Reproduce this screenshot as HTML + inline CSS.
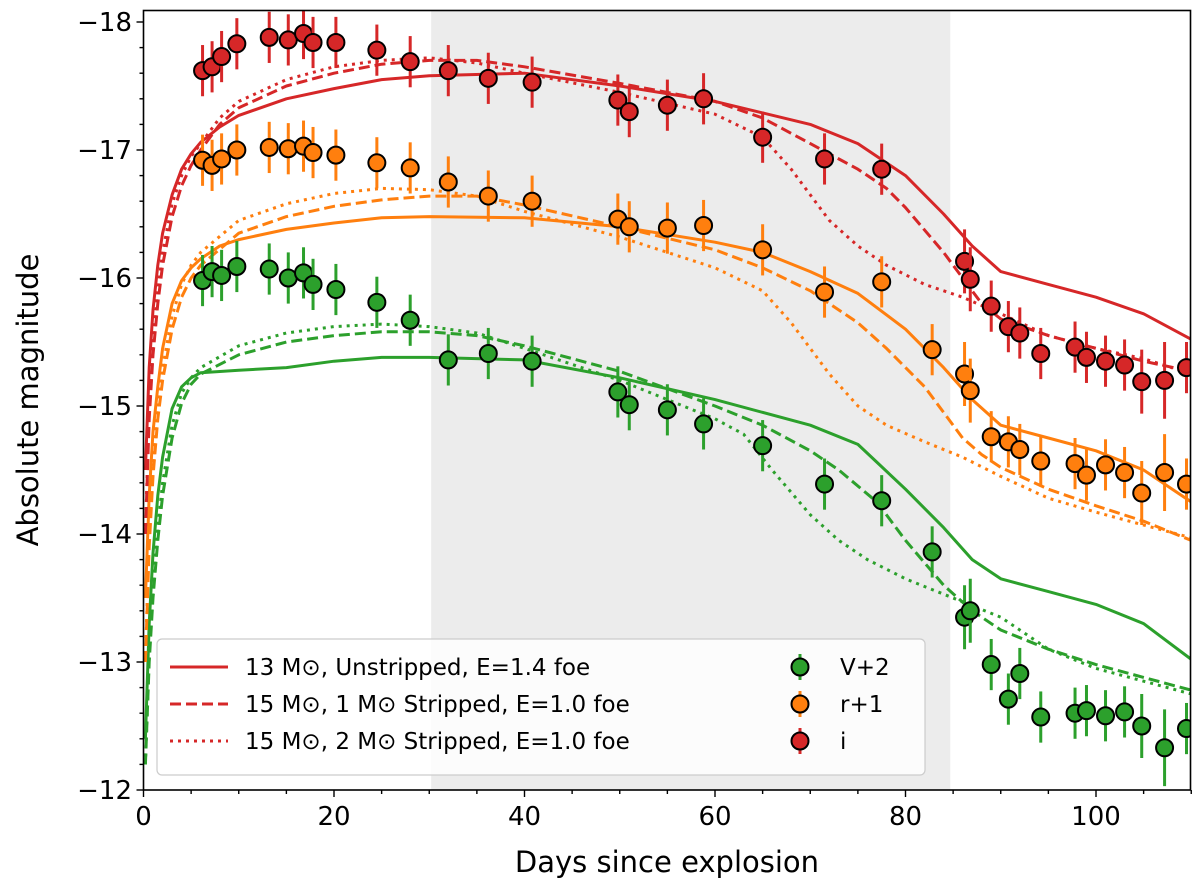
<!DOCTYPE html>
<html><head><meta charset="utf-8"><style>
body{margin:0;background:#fff;}
svg{display:block;font-family:"DejaVu Sans","Liberation Sans",sans-serif;}
</style></head><body>
<svg id="chart" width="1200" height="887" viewBox="0 0 1200 887" xmlns="http://www.w3.org/2000/svg">
<defs><clipPath id="clip"><rect x="143.5" y="10.5" width="1047" height="779.5"/></clipPath></defs>
<g id="plot" clip-path="url(#clip)"></g>
<g id="axes"></g>
</svg>
<script>
const days = [6.2,7.2,8.2,9.8,13.2,15.2,16.8,17.8,20.2,24.5,28.0,32.0,36.2,40.8,49.8,51.0,55.0,58.8,65.0,71.5,77.5,82.8,86.2,86.8,89.0,90.8,92.0,94.2,97.8,99.0,101.0,103.0,104.8,107.2,109.5];
const iMag = [-17.62,-17.65,-17.73,-17.83,-17.88,-17.86,-17.91,-17.84,-17.84,-17.78,-17.69,-17.62,-17.56,-17.53,-17.39,-17.30,-17.35,-17.40,-17.10,-16.93,-16.85,null,-16.13,-15.99,-15.78,-15.62,-15.57,-15.41,-15.46,-15.38,-15.35,-15.32,-15.19,-15.20,-15.30];
const rMag = [-16.92,-16.88,-16.93,-17.00,-17.02,-17.01,-17.03,-16.98,-16.96,-16.90,-16.86,-16.75,-16.64,-16.60,-16.46,-16.40,-16.39,-16.41,-16.22,-15.89,-15.97,-15.44,-15.25,-15.12,-14.76,-14.72,-14.66,-14.57,-14.55,-14.46,-14.54,-14.48,-14.32,-14.48,-14.39];
const vMag = [-15.98,-16.05,-16.02,-16.09,-16.07,-16.00,-16.04,-15.95,-15.91,-15.81,-15.67,-15.36,-15.41,-15.35,-15.11,-15.01,-14.97,-14.86,-14.69,-14.39,-14.26,-13.86,-13.35,-13.40,-12.98,-12.71,-12.91,-12.57,-12.60,-12.62,-12.58,-12.61,-12.50,-12.33,-12.48];
const errMag = [0.2,0.2,0.2,0.2,0.2,0.2,0.2,0.2,0.2,0.2,0.2,0.2,0.2,0.2,0.2,0.2,0.2,0.2,0.2,0.2,0.2,0.2,0.25,0.25,0.2,0.2,0.2,0.2,0.2,0.2,0.2,0.2,0.25,0.3,0.2];
const xTicks = [0,20,40,60,80,100];
const yTicks = [-18,-17,-16,-15,-14,-13,-12];
const redSolid = [[0.2,-14.5],[0.6,-15.3],[1,-15.75],[1.5,-16.1],[2,-16.35],[3,-16.65],[4,-16.85],[5,-16.97],[6,-17.06],[8,-17.18],[10,-17.27],[15,-17.4],[20,-17.48],[25,-17.55],[30,-17.58],[40,-17.6],[50,-17.5],[60,-17.38],[70,-17.2],[75,-17.05],[80,-16.8],[84,-16.5],[87,-16.25],[90,-16.05],[95,-15.95],[100,-15.85],[105,-15.72],[110,-15.52]];
const redDash = [[0.2,-14],[0.6,-14.9],[1,-15.4],[1.5,-15.8],[2,-16.1],[3,-16.48],[4,-16.72],[5,-16.88],[6,-17.0],[8,-17.2],[10,-17.33],[15,-17.5],[20,-17.6],[25,-17.67],[30,-17.7],[35,-17.7],[40,-17.65],[50,-17.52],[60,-17.38],[65,-17.25],[70,-17.05],[75,-16.85],[78,-16.7],[80,-16.55],[84,-16.2],[86,-16.0],[88,-15.8],[90,-15.68],[95,-15.55],[100,-15.45],[105,-15.35],[110,-15.27]];
const redDot = [[0.2,-14],[0.6,-15.0],[1,-15.5],[1.5,-15.9],[2,-16.2],[3,-16.58],[4,-16.8],[5,-16.95],[6,-17.05],[8,-17.25],[10,-17.38],[15,-17.55],[20,-17.65],[25,-17.7],[30,-17.72],[35,-17.68],[40,-17.6],[50,-17.45],[60,-17.28],[65,-17.1],[68,-16.85],[72,-16.45],[75,-16.25],[78,-16.1],[82,-15.95],[86,-15.85],[90,-15.72],[95,-15.55],[100,-15.45],[105,-15.37],[110,-15.25]];
const orSolid = [[0.2,-13.5],[0.6,-14.3],[1,-14.8],[1.5,-15.15],[2,-15.45],[3,-15.8],[4,-15.98],[5,-16.08],[6,-16.15],[8,-16.25],[10,-16.3],[15,-16.38],[20,-16.43],[25,-16.47],[30,-16.48],[40,-16.47],[50,-16.4],[60,-16.28],[65,-16.2],[70,-16.05],[75,-15.88],[80,-15.6],[84,-15.3],[87,-15.05],[90,-14.85],[95,-14.75],[100,-14.65],[105,-14.5],[110,-14.25]];
const orDash = [[0.2,-13],[0.6,-13.9],[1,-14.45],[1.5,-14.9],[2,-15.2],[3,-15.6],[4,-15.85],[5,-16.0],[6,-16.1],[10,-16.35],[15,-16.48],[20,-16.56],[25,-16.61],[30,-16.64],[35,-16.64],[40,-16.57],[50,-16.4],[60,-16.22],[65,-16.08],[70,-15.9],[75,-15.65],[78,-15.45],[82,-15.15],[84,-14.95],[86,-14.75],[88,-14.62],[90,-14.52],[95,-14.35],[100,-14.22],[105,-14.1],[110,-13.95]];
const orDot = [[0.2,-13],[0.6,-14.0],[1,-14.55],[1.5,-15.0],[2,-15.3],[3,-15.7],[4,-15.95],[5,-16.1],[6,-16.2],[10,-16.45],[15,-16.58],[20,-16.66],[25,-16.7],[30,-16.69],[35,-16.64],[40,-16.52],[50,-16.32],[60,-16.08],[65,-15.9],[68,-15.65],[72,-15.25],[75,-15.0],[78,-14.85],[82,-14.72],[86,-14.6],[90,-14.45],[95,-14.28],[100,-14.17],[105,-14.07],[110,-13.97]];
const grSolid = [[0.2,-12.4],[0.6,-13.3],[1,-13.85],[1.5,-14.3],[2,-14.6],[3,-14.98],[4,-15.15],[5,-15.22],[6,-15.26],[10,-15.28],[15,-15.3],[20,-15.35],[25,-15.38],[30,-15.38],[40,-15.36],[50,-15.22],[60,-15.05],[70,-14.85],[75,-14.7],[80,-14.35],[84,-14.05],[87,-13.8],[90,-13.65],[95,-13.55],[100,-13.45],[105,-13.3],[110,-13.02]];
const grDash = [[0.2,-12.2],[0.6,-13.0],[1,-13.5],[1.5,-13.95],[2,-14.3],[3,-14.75],[4,-15.02],[5,-15.17],[6,-15.25],[10,-15.4],[15,-15.5],[20,-15.55],[25,-15.58],[30,-15.58],[35,-15.55],[40,-15.47],[50,-15.27],[60,-15.0],[65,-14.85],[70,-14.65],[73,-14.5],[77,-14.25],[80,-13.95],[84,-13.6],[87,-13.4],[90,-13.25],[95,-13.1],[100,-12.98],[105,-12.88],[110,-12.78]];
const grDot = [[0.2,-12.2],[0.6,-13.05],[1,-13.6],[1.5,-14.05],[2,-14.4],[3,-14.85],[4,-15.1],[5,-15.22],[6,-15.3],[10,-15.47],[15,-15.57],[20,-15.62],[25,-15.64],[30,-15.62],[35,-15.57],[40,-15.45],[50,-15.2],[60,-14.9],[63,-14.78],[66,-14.5],[70,-14.15],[73,-13.95],[76,-13.8],[80,-13.65],[85,-13.5],[90,-13.35],[95,-13.1],[100,-12.95],[105,-12.85],[110,-12.75]];
const shadeRange = [30.2,84.7];

const NS="http://www.w3.org/2000/svg";
const X0=143.5, PXD=9.525, Y12=790, PXM=128;
const xs=d=>X0+d*PXD;
const ys=m=>Y12+(m+12)*PXM;
const RED="#d62728", ORG="#ff7f0e", GRN="#2ca02c";
function mk(tag,attrs,parent){const e=document.createElementNS(NS,tag);for(const k in attrs)e.setAttribute(k,attrs[k]);parent.appendChild(e);return e;}
const plot=document.getElementById('plot'), axes=document.getElementById('axes');

const sh=mk('rect',{x:xs(shadeRange[0]),y:0,width:xs(shadeRange[1])-xs(shadeRange[0]),height:800,fill:'#ececec'},plot);



function line(data,color,dash,name){
  const d=data.map((p,i)=>(i?'L':'M')+xs(p[0]).toFixed(1)+','+ys(p[1]).toFixed(1)).join(' ');
  const a={d:d,fill:'none',stroke:color,'stroke-width':3,'stroke-linejoin':'round'};
  if(dash==='dash')a['stroke-dasharray']='11,5';
  if(dash==='dot'){a['stroke-dasharray']='3,5';}
  const e=mk('path',a,plot);
  
  
}
line(grSolid,GRN,'solid','model-v-13msun-unstripped');
line(grDash,GRN,'dash','model-v-1msun-stripped');
line(grDot,GRN,'dot','model-v-2msun-stripped');
line(orSolid,ORG,'solid','model-r-13msun-unstripped');
line(orDash,ORG,'dash','model-r-1msun-stripped');
line(orDot,ORG,'dot','model-r-2msun-stripped');
line(redSolid,RED,'solid','model-i-13msun-unstripped');
line(redDash,RED,'dash','model-i-1msun-stripped');
line(redDot,RED,'dot','model-i-2msun-stripped');

function pts(mags,color,name){
  const g=mk('g',{},plot);
  
  
  mags.forEach((m,i)=>{
    if(m===null)return;
    const x=xs(days[i]),e=errMag[i];
    const b=mk('line',{x1:x,x2:x,y1:ys(m-e),y2:ys(m+e),stroke:color,'stroke-width':3},g);
    
    
    const c=mk('circle',{cx:x,cy:ys(m),r:8.5,fill:color,stroke:'#000','stroke-width':2},g);
    
    
  });
}
pts(vMag,GRN,'v-band-points');
pts(rMag,ORG,'r-band-points');
pts(iMag,RED,'i-band-points');

const fr=mk('rect',{x:143.5,y:10.5,width:1047,height:779.5,fill:'none',stroke:'#000','stroke-width':1.6},axes);


for(let d=0;d<=110;d+=5){
  const maj=d%20===0;
  mk('line',{x1:xs(d),x2:xs(d),y1:790,y2:790+(maj?7:4),stroke:'#000','stroke-width':1.4},axes);
}
xTicks.forEach(d=>{
  const t=mk('text',{x:xs(d),y:825,'text-anchor':'middle','font-size':26},axes);
  t.textContent=d;
  
  
});
for(let m=-18;m<=-12.01;m+=0.2){
  const maj=Math.abs(m-Math.round(m))<0.01;
  mk('line',{x1:143.5,x2:143.5-(maj?7:4),y1:ys(m),y2:ys(m),stroke:'#000','stroke-width':1.4},axes);
}
mk('line',{x1:143.5,x2:136.5,y1:ys(-12),y2:ys(-12),stroke:'#000','stroke-width':1.4},axes);
yTicks.forEach(m=>{
  const t=mk('text',{x:132,y:ys(m)+9,'text-anchor':'end','font-size':26},axes);
  t.textContent='\u2212'+Math.abs(m);
  
  
});
const xl=mk('text',{x:667,y:872,'text-anchor':'middle','font-size':29},axes);
xl.textContent='Days since explosion';


const yl=mk('text',{x:0,y:0,'text-anchor':'middle','font-size':29,transform:'translate(38,400) rotate(-90)'},axes);
yl.textContent='Absolute magnitude';



const lg=mk('g',{},axes);


mk('rect',{x:157,y:639,width:768,height:136,rx:5,fill:'#fff','fill-opacity':0.85,stroke:'#ccc','stroke-width':1.2},lg);
const lrows=[['13 M\u2299, Unstripped, E=1.4 foe',null],['15 M\u2299, 1 M\u2299 Stripped, E=1.0 foe','11,5'],['15 M\u2299, 2 M\u2299 Stripped, E=1.0 foe','3,5']];
lrows.forEach((r,i)=>{
  const y=667+i*37;
  const a={x1:170,x2:228,y1:y,y2:y,stroke:RED,'stroke-width':3};
  if(r[1])a['stroke-dasharray']=r[1];
  mk('line',a,lg);
  const t=mk('text',{x:245,y:y+8,'font-size':23},lg);
  t.textContent=r[0];
  
  
});
[['V+2',GRN],['r+1',ORG],['i',RED]].forEach((r,i)=>{
  const y=667+i*37;
  mk('line',{x1:800,x2:800,y1:y-13,y2:y+13,stroke:r[1],'stroke-width':3},lg);
  mk('circle',{cx:800,cy:y,r:8.5,fill:r[1],stroke:'#000','stroke-width':2},lg);
  const t=mk('text',{x:840,y:y+8,'font-size':23},lg);
  t.textContent=r[0];
  
  
});
</script>
</body></html>
